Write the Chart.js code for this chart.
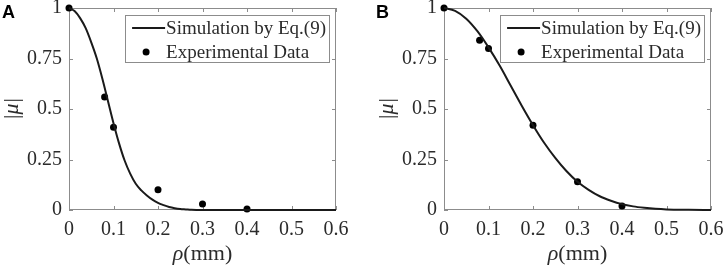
<!DOCTYPE html>
<html>
<head>
<meta charset="utf-8">
<script src="https://cdn.jsdelivr.net/npm/chart.js@4.4.1/dist/chart.umd.min.js"></script>
<style>
  html, body { margin: 0; padding: 0; background: #fff; }
  #wrap { position: relative; width: 726px; height: 270px; overflow: hidden; }
  canvas { position: absolute; top: 0; }
</style>
</head>
<body>
<div id="wrap">
  <canvas id="chartA" width="363" height="270" style="left:0"></canvas>
  <canvas id="chartB" width="363" height="270" style="left:363px"></canvas>
</div>
<script>
// values
const xTicks = [0, 0.1, 0.2, 0.3, 0.4, 0.5, 0.6];
const xTickLabels = ['0', '0.1', '0.2', '0.3', '0.4', '0.5', '0.6'];
const yTicks = [0, 0.25, 0.5, 0.75, 1];
const yTickLabels = ['0', '0.25', '0.5', '0.75', '1'];
const seriesNames = ['Simulation by Eq.(9)', 'Experimental Data'];

// panel A
const simA_x = [0, 0.0125, 0.025, 0.0375, 0.05, 0.0625, 0.075, 0.0875, 0.1, 0.1125, 0.125, 0.1375, 0.15, 0.1625, 0.175, 0.1875, 0.2, 0.2125, 0.225, 0.2375, 0.25, 0.2625, 0.275, 0.3, 0.35, 0.4, 0.45, 0.5, 0.55, 0.6];
const simA_y = [1, 0.985, 0.95, 0.90, 0.83, 0.75, 0.65, 0.54, 0.43, 0.33, 0.245, 0.18, 0.13, 0.097, 0.072, 0.051, 0.035, 0.024, 0.015, 0.009, 0.005, 0.003, 0.001, 0, 0, 0, 0, 0, 0, 0];
const expA_x = [0, 0.08, 0.1, 0.2, 0.3, 0.4];
const expA_y = [1, 0.56, 0.41, 0.10, 0.03, 0.005];

// panel B
const simB_x = [0, 0.025, 0.05, 0.075, 0.1, 0.125, 0.15, 0.175, 0.2, 0.225, 0.25, 0.275, 0.3, 0.325, 0.35, 0.375, 0.4, 0.425, 0.45, 0.475, 0.5, 0.55, 0.6];
const simB_y = [1, 0.986, 0.947, 0.885, 0.805, 0.715, 0.615, 0.515, 0.42, 0.333, 0.258, 0.193, 0.14, 0.1, 0.068, 0.046, 0.029, 0.018, 0.011, 0.006, 0.003, 0.001, 0];
const expB_x = [0, 0.08, 0.1, 0.2, 0.3, 0.4];
const expB_y = [1, 0.84, 0.80, 0.42, 0.14, 0.02];

const SERIF = '"Liberation Serif", "Times New Roman", serif';
const TXT = '#2b2b2b';

function pairs(xs, ys) {
  return xs.map((x, i) => ({ x, y: ys[i] }));
}

// box, inward ticks, axis titles, panel letter, legend (MATLAB look)
const panelDeco = {
  id: 'panelDeco',
  beforeDatasetsDraw(chart) {
    const { ctx, chartArea: a, scales: { x, y } } = chart;
    ctx.save();
    ctx.strokeStyle = '#8c8c8c';
    ctx.lineWidth = 1;
    ctx.strokeRect(a.left + 0.5, a.top + 0.5, a.width - 1, a.height - 1);
    ctx.beginPath();
    xTicks.forEach(v => {
      const px = Math.round(x.getPixelForValue(v)) + 0.5;
      ctx.moveTo(px, a.bottom); ctx.lineTo(px, a.bottom - 4);
      ctx.moveTo(px, a.top); ctx.lineTo(px, a.top + 4);
    });
    yTicks.forEach(v => {
      const py = Math.round(y.getPixelForValue(v)) + 0.5;
      ctx.moveTo(a.left, py); ctx.lineTo(a.left + 4, py);
      ctx.moveTo(a.right, py); ctx.lineTo(a.right - 4, py);
    });
    ctx.stroke();
    ctx.restore();
  },
  afterDraw(chart, args, opts) {
    const { ctx, chartArea: a } = chart;
    ctx.save();
    ctx.fillStyle = TXT;
    ctx.textBaseline = 'alphabetic';

    // x title: rho(mm)
    const it = 'italic 22px ' + SERIF, rm = '22px ' + SERIF;
    ctx.font = it; const w1 = ctx.measureText('ρ').width;
    ctx.font = rm; const w2 = ctx.measureText('(mm)').width;
    let sx = (a.left + a.right) / 2 - (w1 + w2) / 2;
    ctx.font = it; ctx.fillText('ρ', sx, 260);
    ctx.font = rm; ctx.fillText('(mm)', sx + w1, 260);

    // y title: |mu|
    ctx.save();
    ctx.translate(a.left - 51, (a.top + a.bottom) / 2);
    ctx.rotate(-Math.PI / 2);
    ctx.font = rm; const bw = ctx.measureText('|').width;
    ctx.font = it; const mw = ctx.measureText('μ').width;
    let ty = -(bw * 2 + mw) / 2;
    ctx.font = rm; ctx.fillText('|', ty, 0);
    ctx.font = it; ctx.fillText('μ', ty + bw, 0);
    ctx.font = rm; ctx.fillText('|', ty + bw + mw + 1, 0);
    ctx.restore();

    // panel letter
    ctx.fillStyle = '#000';
    ctx.font = 'bold 18px "Liberation Sans", Arial, sans-serif';
    ctx.fillText(opts.letter, a.left - opts.letterOff, 18);

    // legend
    const sim = chart.data.datasets[0], exp = chart.data.datasets[1];
    ctx.font = '19px ' + SERIF;
    const tw = Math.max(ctx.measureText(seriesNames[0]).width, ctx.measureText(seriesNames[1]).width);
    const bwid = tw + 44, bh = 47;
    const bx = a.right - 7 - bwid, by = a.top + 7;
    ctx.fillStyle = '#fff';
    ctx.fillRect(bx, by, bwid, bh);
    ctx.strokeStyle = '#8c8c8c';
    ctx.lineWidth = 1;
    ctx.strokeRect(Math.round(bx) + 0.5, by + 0.5, Math.round(bwid), bh);
    const r1 = by + 13, r2 = by + 37;
    ctx.strokeStyle = sim.borderColor;
    ctx.lineWidth = sim.borderWidth;
    ctx.beginPath(); ctx.moveTo(bx + 7, r1); ctx.lineTo(bx + 40, r1); ctx.stroke();
    ctx.fillStyle = exp.pointBackgroundColor;
    ctx.beginPath(); ctx.arc(bx + 21, r2, exp.pointRadius, 0, Math.PI * 2); ctx.fill();
    ctx.fillStyle = TXT;
    ctx.textBaseline = 'middle';
    ctx.fillText(seriesNames[0], bx + 41, r1 + 1);
    ctx.fillText(seriesNames[1], bx + 41, r2 + 1);
    ctx.restore();
  }
};

function makePanel(id, letter, simX, simY, expX, expY, leftW, rightPad, letterOff) {
  const el = document.getElementById(id);
  return new Chart(el.getContext('2d'), {
    type: 'line',
    data: {
      datasets: [
        {
          label: seriesNames[0],
          data: pairs(simX, simY),
          borderColor: '#1a1a1a',
          borderWidth: 2,
          pointRadius: 0,
          fill: false,
          cubicInterpolationMode: 'monotone',
          clip: false
        },
        {
          label: seriesNames[1],
          data: pairs(expX, expY),
          showLine: false,
          pointRadius: 3.5,
          pointBackgroundColor: '#000',
          pointBorderWidth: 0,
          borderColor: '#000',
          clip: false
        }
      ]
    },
    options: {
      responsive: false,
      animation: false,
      layout: { padding: { left: 0, right: rightPad, top: 8, bottom: 0 } },
      plugins: {
        legend: { display: false },
        tooltip: { enabled: false },
        panelDeco: { letter, letterOff }
      },
      scales: {
        x: {
          type: 'linear', min: 0, max: 0.6,
          afterBuildTicks: s => { s.ticks = xTicks.map(v => ({ value: v })); },
          afterFit: s => { s.height = 60; s.paddingLeft = 0; s.paddingRight = 0; },
          ticks: {
            callback: (v, i) => xTickLabels[i],
            font: { family: SERIF, size: 20 },
            color: TXT, padding: 8, maxRotation: 0, autoSkip: false
          },
          grid: { display: false, drawTicks: false },
          border: { display: false }
        },
        y: {
          type: 'linear', min: 0, max: 1,
          afterBuildTicks: s => { s.ticks = yTicks.map(v => ({ value: v })); },
          afterFit: s => { s.width = leftW; s.paddingTop = 0; s.paddingBottom = 0; },
          ticks: {
            callback: (v, i) => yTickLabels[i],
            font: { family: SERIF, size: 20 },
            color: TXT, padding: 7, autoSkip: false
          },
          grid: { display: false, drawTicks: false },
          border: { display: false }
        }
      }
    },
    plugins: [panelDeco]
  });
}

makePanel('chartA', 'A', simA_x, simA_y, expA_x, expA_y, 69, 27, 67);
makePanel('chartB', 'B', simB_x, simB_y, expB_x, expB_y, 81, 15, 68);
</script>
</body>
</html>
